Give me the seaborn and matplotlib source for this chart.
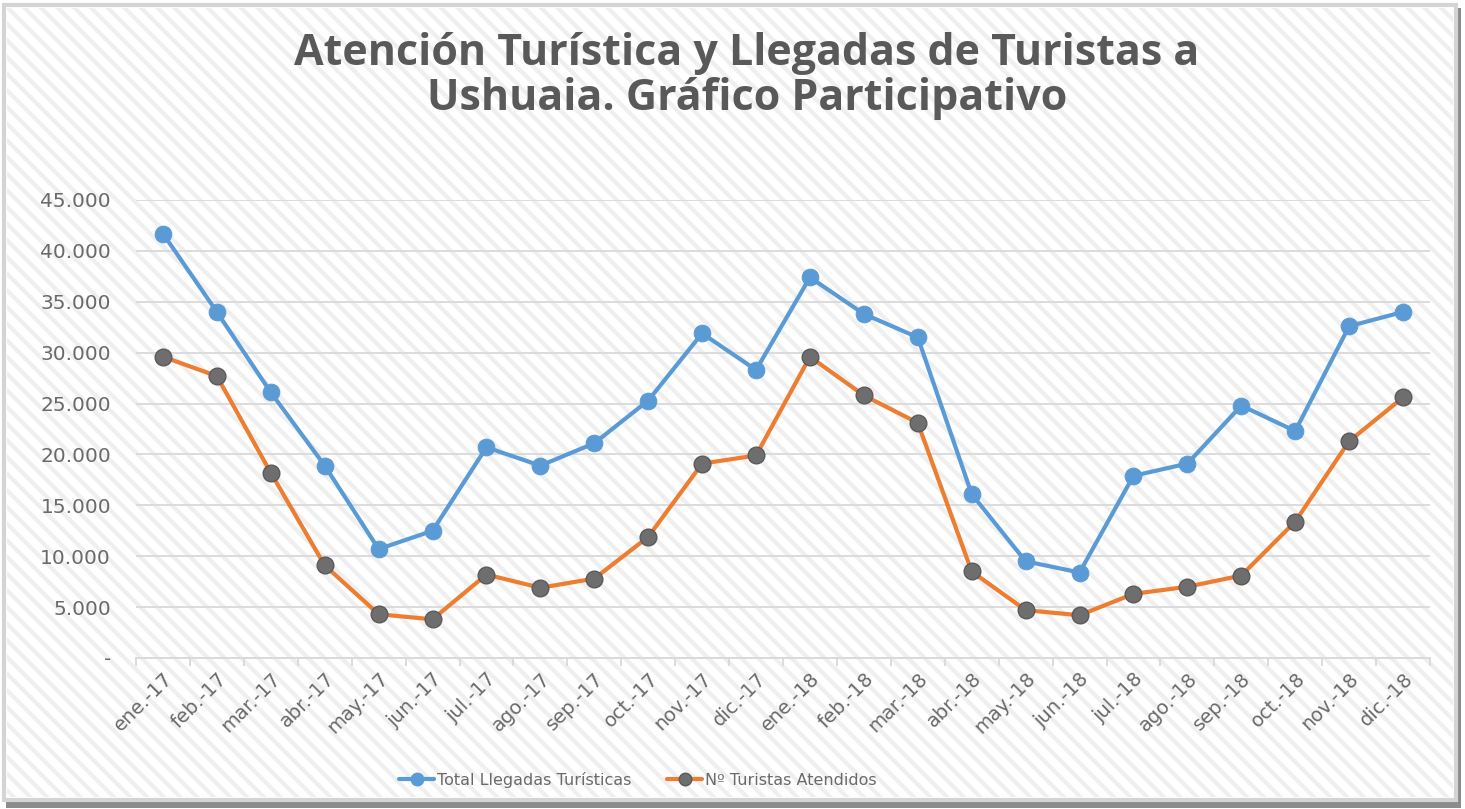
import matplotlib
matplotlib.use("Agg")
import matplotlib.pyplot as plt
from matplotlib.patches import Rectangle
from matplotlib.lines import Line2D
from matplotlib.ticker import FuncFormatter, FixedLocator
import seaborn as sns
import pandas as pd
import numpy as np

# ---- data ----
months = ["ene.-17", "feb.-17", "mar.-17", "abr.-17", "may.-17", "jun.-17",
          "jul.-17", "ago.-17", "sep.-17", "oct.-17", "nov.-17", "dic.-17",
          "ene.-18", "feb.-18", "mar.-18", "abr.-18", "may.-18", "jun.-18",
          "jul.-18", "ago.-18", "sep.-18", "oct.-18", "nov.-18", "dic.-18"]
total_llegadas = [41700, 34000, 26100, 18900, 10700, 12500,
                  20700, 18900, 21100, 25300, 31900, 28300,
                  37400, 33800, 31500, 16100, 9500, 8400,
                  17900, 19100, 24800, 22300, 32600, 34000]
turistas_atendidos = [29600, 27700, 18200, 9100, 4300, 3800,
                      8200, 6900, 7800, 11900, 19100, 19900,
                      29600, 25800, 23100, 8500, 4700, 4200,
                      6300, 7000, 8100, 13400, 21300, 25600]
series_names = ["Total Llegadas Turísticas", "Nº Turistas Atendidos"]
y_ticks = [0, 5000, 10000, 15000, 20000, 25000, 30000, 35000, 40000, 45000]
title = "Atención Turística y Llegadas de Turistas a\nUshuaia. Gráfico Participativo"

sns.set_style("white")
plt.rcParams["font.family"] = ["DejaVu Sans"]
plt.rcParams["hatch.linewidth"] = 3.0
plt.rcParams["hatch.color"] = "#EFEFEF"

W, H = 1465, 809
fig = plt.figure(figsize=(W / 100, H / 100), dpi=100)
fig.patch.set_facecolor("white")

# shadow + hatched frame
fig.patches.append(Rectangle((6 / W, 1 - 808 / H), 1455 / W, 800 / H, transform=fig.transFigure,
                             facecolor="#8c8c8c", edgecolor="none", zorder=-3))
fig.patches.append(Rectangle((4 / W, 1 - 800 / H), 1452 / W, 795 / H, transform=fig.transFigure,
                             facecolor="white", edgecolor="#D4D4D4", linewidth=3, zorder=-2))
fig.patches.append(Rectangle((7 / W, 1 - 797 / H), 1446 / W, 789 / H, transform=fig.transFigure,
                             facecolor="white", edgecolor="#EFEFEF", hatch="\\\\", linewidth=0, zorder=-1))

ax = fig.add_axes([136 / W, 1 - 658 / H, (1430 - 136) / W, (658 - 200) / H])
ax.set_facecolor("none")

x = np.arange(len(months))
df = pd.DataFrame({"x": np.concatenate([x, x]),
                   "valor": total_llegadas + turistas_atendidos,
                   "serie": [series_names[0]] * len(months) + [series_names[1]] * len(months)})

blue = "#5B9BD5"
orange = "#ED7D31"
grey_marker = "#6E6E6E"

sns.lineplot(data=df[df.serie == series_names[0]], x="x", y="valor", ax=ax, color=blue,
             linewidth=3.0, marker="o", markersize=12, markeredgecolor=blue,
             markerfacecolor=blue, legend=False, zorder=3)
sns.lineplot(data=df[df.serie == series_names[1]], x="x", y="valor", ax=ax, color=orange,
             linewidth=3.0, marker="o", markersize=12, markeredgecolor="#5a5a5a",
             markeredgewidth=1, markerfacecolor=grey_marker, legend=False, zorder=4)

ax.set_xlim(-0.5, len(months) - 0.5)
ax.set_ylim(0, 45000)
ax.set_yticks(y_ticks)
ax.yaxis.set_major_formatter(FuncFormatter(
    lambda v, p: "-" if v == 0 else f"{int(v):,}".replace(",", ".")))
ax.grid(axis="y", color="#D9D9D9", linewidth=1.3)
ax.grid(axis="x", visible=False)
ax.set_axisbelow(True)

ax.set_xticks(x)
ax.set_xticklabels(months, rotation=45, ha="right", rotation_mode="anchor")
ax.xaxis.set_minor_locator(FixedLocator(np.arange(-0.5, len(months), 1)))
ax.tick_params(axis="x", which="major", length=0, pad=8, labelsize=14, labelcolor="#6a6a6a")
ax.tick_params(axis="x", which="minor", length=6, width=1.3, color="#D9D9D9", bottom=True)
ax.tick_params(axis="y", length=0, pad=18, labelsize=14.5, labelcolor="#6a6a6a")
ax.set_xlabel("")
ax.set_ylabel("")

for s in ["top", "right", "left"]:
    ax.spines[s].set_visible(False)
ax.spines["bottom"].set_color("#D9D9D9")
ax.spines["bottom"].set_linewidth(1.3)

fig.text(747 / W, 1 - 76 / H, title, ha="center", va="center", fontsize=31,
         fontweight="bold", color="#595959", linespacing=1.08,
         family=["Open Sans", "DejaVu Sans"])

handles = [Line2D([0], [0], color=blue, lw=3.0, marker="o", markersize=9,
                  markerfacecolor=blue, markeredgecolor=blue),
           Line2D([0], [0], color=orange, lw=3.0, marker="o", markersize=9,
                  markerfacecolor=grey_marker, markeredgecolor="#5a5a5a")]
fig.legend(handles, series_names, loc="center", bbox_to_anchor=(638 / W, 1 - 780 / H),
           ncol=2, frameon=False, prop={"size": 11.5, "family": "DejaVu Sans"},
           labelcolor="#6a6a6a",
           handlelength=2.2, handletextpad=0.2, columnspacing=2.2)

fig.savefig("out.png", dpi=100)
